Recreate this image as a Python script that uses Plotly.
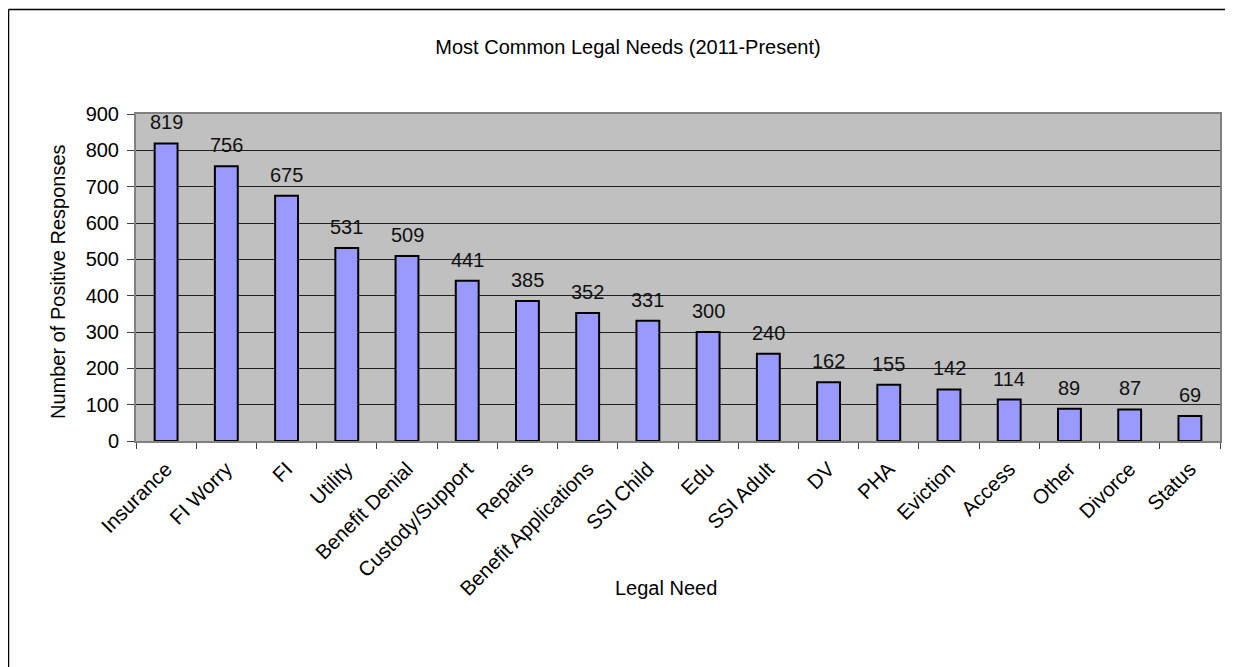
import plotly.graph_objects as go

categories = ["Insurance", "FI Worry", "FI", "Utility", "Benefit Denial", "Custody/Support",
              "Repairs", "Benefit Applications", "SSI Child", "Edu", "SSI Adult", "DV", "PHA",
              "Eviction", "Access", "Other", "Divorce", "Status"]
values = [819, 756, 675, 531, 509, 441, 385, 352, 331, 300, 240, 162, 155, 142, 114, 89, 87, 69]
y_ticks = [0, 100, 200, 300, 400, 500, 600, 700, 800, 900]

OFF = 8  # default page body margin
W, H = 1233 - OFF, 667 - OFF
L, T = 136 - OFF, 114 - OFF
R = W - (1220 - OFF)
B = H - (441 - OFF)
pw, ph = W - L - R, H - T - B

font = "Liberation Sans, Arial, sans-serif"

def px_to_paper_x(px):
    return (px - OFF - L) / pw

def px_to_paper_y(py):
    return 1 - (py - OFF - T) / ph

fig = go.Figure(go.Bar(
    x=categories, y=values,
    marker=dict(color="#9999FF", line=dict(color="black", width=2)),
    width=0.38,
    hoverinfo="x+y",
))

annotations = [
    dict(x=c, y=v, xref="x", yref="y", text=str(v), showarrow=False,
         yanchor="bottom", yshift=8, font=dict(family=font, size=20, color="#111111"))
    for c, v in zip(categories, values)
]
annotations.append(dict(text="Legal Need", xref="paper", yref="paper",
                        x=px_to_paper_x(666), y=px_to_paper_y(588), xanchor="center",
                        yanchor="middle", showarrow=False, font=dict(family=font, size=20)))
annotations.append(dict(text="Number of Positive Responses", xref="paper", yref="paper",
                        x=px_to_paper_x(58), y=px_to_paper_y(282), xanchor="center",
                        yanchor="middle", textangle=-90, showarrow=False,
                        font=dict(family=font, size=20)))

bx = px_to_paper_x(8.5)
by = px_to_paper_y(9.5)

fig.update_layout(
    width=W, height=H,
    margin=dict(l=L, r=R, t=T, b=B),
    paper_bgcolor="white", plot_bgcolor="#C0C0C0",
    font=dict(family=font, size=20, color="black"),
    title=dict(text="Most Common Legal Needs (2011-Present)", x=(628 - OFF) / W, xref="container",
               xanchor="center",
               y=1 - (47 - OFF) / H, yref="container", yanchor="middle", font=dict(size=20)),
    showlegend=False,
    annotations=annotations,
    shapes=[
        dict(type="line", xref="paper", yref="paper", x0=bx, x1=bx, y0=by, y1=-1.0,
             line=dict(color="black", width=1.5)),
        dict(type="line", xref="paper", yref="paper", x0=bx, x1=1.2, y0=by, y1=by,
             line=dict(color="black", width=1.5)),
    ],
)
fig.update_xaxes(
    tickangle=-45, tickfont=dict(size=20.5),
    showline=True, linecolor="#808080", linewidth=2, mirror=True,
    ticks="outside", ticklen=6, tickcolor="#404040", tickson="boundaries",
    ticklabelstandoff=6,
    showgrid=False,
)
fig.update_yaxes(
    range=[0, 900], tickvals=y_ticks, tickfont=dict(size=20),
    showline=True, linecolor="#808080", linewidth=2, mirror=True,
    ticks="outside", ticklen=7, tickcolor="#404040",
    ticklabelstandoff=4,
    showgrid=True, gridcolor="#202020", gridwidth=1,
    zeroline=False,
)
fig.write_html("out.html")
